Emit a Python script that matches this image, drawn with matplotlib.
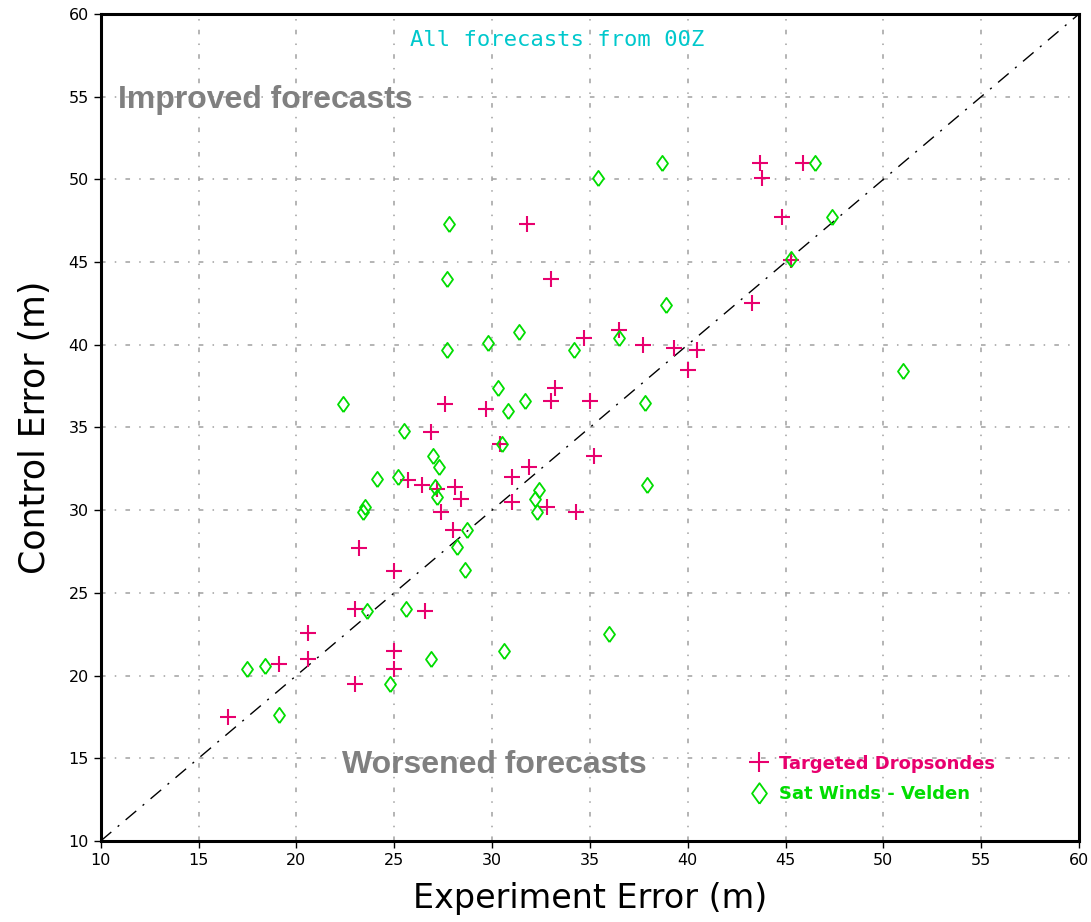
import matplotlib
matplotlib.use("Agg")
import matplotlib.pyplot as plt
import numpy as np

# Targeted dropsondes (experiment error, control error) in metres
drop_exp = [16.5, 19.1, 20.6, 20.6, 23.0, 23.0, 23.2, 25.0, 25.0, 25.0,
            25.7, 26.4, 26.6, 26.9, 27.2, 27.4, 27.6, 28.0, 28.1, 28.4,
            29.7, 30.4, 31.0, 31.0, 31.8, 31.9, 32.8, 33.0, 33.0, 33.2,
            34.3, 34.7, 35.0, 35.2, 36.5, 37.7, 39.3, 40.0, 40.5, 43.3,
            43.7, 43.8, 44.8, 45.3, 45.9]
drop_ctl = [17.5, 20.7, 22.6, 21.0, 24.0, 19.5, 27.7, 26.3, 21.5, 20.4,
            31.8, 31.5, 23.9, 34.75, 31.3, 29.9, 36.4, 28.8, 31.4, 30.7,
            36.1, 34.0, 30.5, 32.0, 47.3, 32.6, 30.2, 36.6, 44.0, 37.4,
            29.9, 40.4, 36.6, 33.3, 40.9, 40.0, 39.8, 38.5, 39.7, 42.5,
            51.0, 50.1, 47.7, 45.1, 51.0]

# Satellite winds (Velden)
sat_exp = [17.5, 18.4, 19.1, 22.4, 23.4, 23.5, 23.6, 24.1, 24.8, 25.2,
           25.5, 25.6, 26.9, 27.0, 27.1, 27.2, 27.3, 27.7, 27.7, 27.8,
           28.2, 28.6, 28.7, 29.8, 30.3, 30.5, 30.6, 30.8, 31.4, 31.7,
           32.2, 32.3, 32.4, 34.2, 35.4, 36.0, 36.5, 37.8, 37.9, 38.7,
           38.9, 45.3, 46.5, 47.4, 51.0]
sat_ctl = [20.4, 20.6, 17.6, 36.4, 29.9, 30.2, 23.9, 31.9, 19.5, 32.0,
           34.8, 24.0, 21.0, 33.3, 31.4, 30.8, 32.6, 39.7, 44.0, 47.3,
           27.8, 26.4, 28.8, 40.1, 37.4, 34.0, 21.5, 36.0, 40.8, 36.6,
           30.7, 29.9, 31.2, 39.7, 50.1, 22.5, 40.4, 36.5, 31.5, 51.0,
           42.4, 45.2, 51.0, 47.7, 38.4]

ticks = [10, 15, 20, 25, 30, 35, 40, 45, 50, 55, 60]

PINK = "#e8006e"
GREEN = "#00dd00"
CYAN = "#00c8cc"
GREY = "#808080"

# open diamond, a bit narrower than tall
DIAMOND = [(0, -1), (0.72, 0), (0, 1), (-0.72, 0), (0, -1)]

fig = plt.figure(figsize=(10.91, 9.22), dpi=100)
ax = fig.add_axes([0.0923, 0.0879, 0.8967, 0.8969])

ax.set_xlim(10, 60)
ax.set_ylim(10, 60)
ax.set_xticks(ticks)
ax.set_yticks(ticks)
ax.tick_params(labelsize=11.5, length=5, width=1, direction="out",
               top=False, right=False)

ax.grid(True, color="#a0a0a0", linewidth=1.1, linestyle=(0, (3, 6, 1, 6)))
ax.set_axisbelow(True)
for s in ax.spines.values():
    s.set_linewidth(2.2)
    s.set_color("black")

# 1:1 line
ax.plot(ticks, ticks, color="black", linewidth=1,
        linestyle=(0, (10, 6, 1.5, 6)), zorder=2)

ax.plot(drop_exp, drop_ctl, linestyle="none", marker="+", markersize=11,
        markeredgewidth=1.5, color=PINK, label="Targeted Dropsondes", zorder=3)
ax.plot(sat_exp, sat_ctl, linestyle="none", marker=DIAMOND, markersize=11,
        markeredgewidth=1.3, fillstyle="none", color=GREEN,
        label="Sat Winds - Velden", zorder=3)

leg = ax.legend(loc="upper left", bbox_to_anchor=(0.645, 0.124), frameon=False,
                fontsize=13, handletextpad=0.5, labelspacing=0.7,
                labelcolor="linecolor", handlelength=1.2, markerscale=1.35)
for t in leg.get_texts():
    t.set_fontweight("bold")

ax.text(0.467, 0.9686, "All forecasts from 00Z", transform=ax.transAxes,
        color=CYAN, fontsize=16, family="DejaVu Sans Mono",
        ha="center", va="center")
ax.text(0.018, 0.896, "Improved forecasts", transform=ax.transAxes,
        color=GREY, fontsize=23, fontweight="bold", family="Liberation Sans",
        ha="left", va="center")
ax.text(0.247, 0.092, "Worsened forecasts", transform=ax.transAxes,
        color=GREY, fontsize=23, fontweight="bold", family="Liberation Sans",
        ha="left", va="center")

ax.set_xlabel("Experiment Error (m)", fontsize=24, labelpad=10)
ax.set_ylabel("Control Error (m)", fontsize=25, labelpad=12)

fig.savefig("out.png", dpi=100)
